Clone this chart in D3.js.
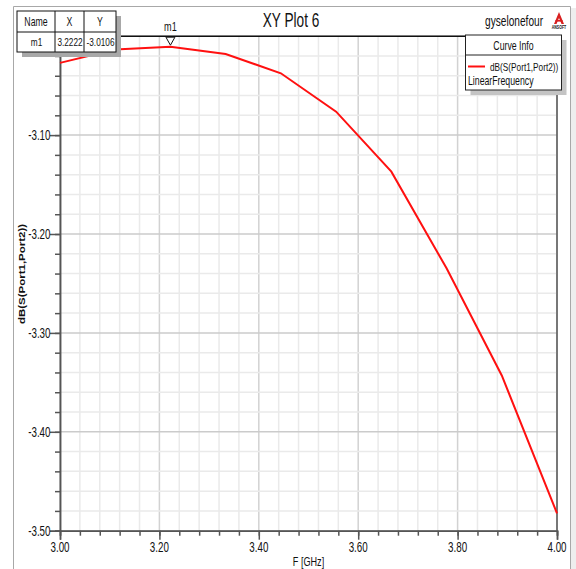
<!DOCTYPE html>
<html>
<head>
<meta charset="utf-8">
<script src="https://cdn.jsdelivr.net/npm/d3@7"></script>
<style>
  html, body { margin: 0; padding: 0; background: #fff; }
  svg { display: block; }
  text { font-family: "Liberation Sans", Arial, sans-serif; fill: #111; }
</style>
</head>
<body>
<svg id="chart" width="576" height="569"></svg>
<script>
// Sweep: dB(S(Port1,Port2)) vs linear frequency (GHz)
const freqGHz = [3.0, 3.1111, 3.2222, 3.3333, 3.4444, 3.5556, 3.6667, 3.7778, 3.8889, 4.0];
const s21dB   = [-3.027, -3.0135, -3.0106, -3.018, -3.0375, -3.0763, -3.137, -3.2347, -3.343, -3.4824];

const xTickLabels = ["3.00", "3.20", "3.40", "3.60", "3.80", "4.00"];
const yTickLabels = ["-3.10", "-3.20", "-3.30", "-3.40", "-3.50"];

const markerName = "m1";
const markerX = 3.2222;
const markerY = -3.0106;

const plotTitle = "XY Plot 6";
const designName = "gyselonefour";
const curveName = "dB(S(Port1,Port2))";
const sweepName = "LinearFrequency";
const xTitle = "F [GHz]";
const yTitle = "dB(S(Port1,Port2))";

const svg = d3.select("#chart");
const SX = 0.7; // narrow text rendering
const L = 60, R = 557, T = 36.2, B = 530.7;

const x = d3.scaleLinear().domain([3.0, 4.0]).range([L, R]);
const y = d3.scaleLinear().domain([-3.5, -3.0]).range([B, T]);

function label(g, px, py, str, size, anchor, weight) {
  return g.append("text")
    .attr("transform", `translate(${px},${py}) scale(${SX},1)`)
    .attr("text-anchor", anchor || "start")
    .style("font-size", size + "px")
    .style("font-weight", weight || "normal")
    .text(str);
}

// outer frame
svg.append("rect").attr("x", 570).attr("y", 8).attr("width", 6).attr("height", 561).attr("fill", "#eeeeee");
svg.append("path").attr("d", "M13.5,569 V6.5 H570.5 V569").attr("fill", "none").attr("stroke", "#a8a8a8").attr("stroke-width", 1);

// grid
const xMinor = d3.range(0, 26).map(i => 3.0 + i * 0.04);
const yMinor = d3.range(0, 26).map(i => -3.5 + i * 0.02);
const grid = svg.append("g");
xMinor.forEach((v, i) => {
  grid.append("line").attr("x1", x(v)).attr("x2", x(v)).attr("y1", T).attr("y2", B)
    .attr("stroke", i % 5 === 0 ? "#d2d2d2" : "#eaeaea").attr("stroke-width", 1.5);
});
yMinor.forEach((v, i) => {
  grid.append("line").attr("x1", L).attr("x2", R).attr("y1", y(v)).attr("y2", y(v))
    .attr("stroke", i % 5 === 0 ? "#cbcbcb" : "#eaeaea").attr("stroke-width", 1.5);
});

// axes
const axisColor = "#555";
const xMajorVals = xTickLabels.map(Number);
const yMajorVals = [-3.0].concat(yTickLabels.map(Number));

const gx = svg.append("g").attr("transform", `translate(0,${B})`);
gx.call(d3.axisBottom(x).tickValues(xMinor).tickSize(5).tickFormat(""));
const gxMaj = svg.append("g").attr("transform", `translate(0,${B})`);
gxMaj.call(d3.axisBottom(x).tickValues(xMajorVals).tickSize(9).tickFormat(""));
[gx, gxMaj].forEach(g => {
  g.selectAll("path,line").attr("stroke", axisColor).attr("stroke-width", 1.5);
});
xMajorVals.forEach((v, i) => label(svg, x(v), 551.5, xTickLabels[i], 14, "middle"));

const gy = svg.append("g").attr("transform", `translate(${L},0)`);
gy.call(d3.axisLeft(y).tickValues(yMinor).tickSize(5).tickFormat(""));
const gyMaj = svg.append("g").attr("transform", `translate(${L},0)`);
gyMaj.call(d3.axisLeft(y).tickValues(yMajorVals).tickSize(10).tickFormat(""));
[gy, gyMaj].forEach(g => {
  g.selectAll("path,line").attr("stroke", axisColor).attr("stroke-width", 1.5);
});
// the -3.00 label sits under the marker table, so only the lower labels are drawn
yTickLabels.forEach(t => label(svg, 50.5, y(+t) + 5, t, 14, "end"));

// right edge and top border of plot area
svg.append("line").attr("x1", R).attr("x2", R).attr("y1", T).attr("y2", B).attr("stroke", axisColor).attr("stroke-width", 1.5);
svg.append("line").attr("x1", L).attr("x2", R).attr("y1", T).attr("y2", T).attr("stroke", "#111").attr("stroke-width", 1.5);

// axis titles
label(svg, (L + R) / 2, 566, xTitle, 13, "middle");
svg.append("text")
  .attr("transform", `translate(25,274) rotate(-90) scale(1,${SX + 0.05})`)
  .attr("text-anchor", "middle")
  .style("font-size", "11.5px")
  .style("font-weight", "bold")
  .text(yTitle);

// curve
const line = d3.line().x((d, i) => x(freqGHz[i])).y(d => y(d));
svg.append("path").datum(s21dB).attr("d", line)
  .attr("fill", "none").attr("stroke", "#ff1010").attr("stroke-width", 2);

// marker
const mx = x(markerX), my = y(markerY);
svg.append("path")
  .attr("d", `M${mx - 4.5},${T + 1} L${mx + 4.5},${T + 1} L${mx},${my - 1.5} Z`)
  .attr("fill", "#fff").attr("stroke", "#111").attr("stroke-width", 1);
label(svg, mx, 31, markerName, 13, "middle");

// title and design name
label(svg, 291, 27, plotTitle, 19.5, "middle");
label(svg, 485, 26, designName, 14.5, "start");

// logo
const logo = svg.append("g").attr("transform", "translate(559,12)");
logo.append("path").attr("d", "M0,0 L5,12 L2.5,12 L0,6 L-2.5,12 L-5,12 Z").attr("fill", "#d82020");
logo.append("rect").attr("x", -3.5).attr("y", 8).attr("width", 7).attr("height", 1.6).attr("fill", "#d82020");
label(logo, 0, 16.5, "ANSOFT", 5, "middle", "bold");

// marker table
const tbl = svg.append("g");
const tx0 = 17, tx1 = 55, tx2 = 84, tx3 = 116, ty0 = 11, ty1 = 32, ty2 = 52;
tbl.append("rect").attr("x", tx0 + 5).attr("y", ty0 + 5).attr("width", tx3 - tx0).attr("height", ty2 - ty0).attr("fill", "#a8a8a8");
tbl.append("rect").attr("x", tx0).attr("y", ty0).attr("width", tx3 - tx0).attr("height", ty2 - ty0)
  .attr("fill", "#fff").attr("stroke", "#111").attr("stroke-width", 1);
[tx1, tx2].forEach(v => tbl.append("line").attr("x1", v).attr("x2", v).attr("y1", ty0).attr("y2", ty2).attr("stroke", "#111"));
tbl.append("line").attr("x1", tx0).attr("x2", tx3).attr("y1", ty1).attr("y2", ty1).attr("stroke", "#111");
const headers = ["Name", "X", "Y"];
const row = [markerName, markerX.toFixed(4), markerY.toFixed(4)];
const cx = [(tx0 + tx1) / 2, (tx1 + tx2) / 2, (tx2 + tx3) / 2];
headers.forEach((h, i) => label(tbl, cx[i], 26, h, 12.5, "middle"));
row.forEach((h, i) => label(tbl, cx[i] + 0.5, 46, h, 11.8, "middle"));

// curve info legend
const lg = svg.append("g");
const lx0 = 465.5, lx1 = 561.5, ly0 = 35, ly1 = 90;
lg.append("rect").attr("x", lx0 + 5).attr("y", ly0 + 5).attr("width", lx1 - lx0).attr("height", ly1 - ly0).attr("fill", "#c4c4c4");
lg.append("rect").attr("x", lx0).attr("y", ly0).attr("width", lx1 - lx0).attr("height", ly1 - ly0)
  .attr("fill", "#fff").attr("stroke", "#222").attr("stroke-width", 1);
lg.append("line").attr("x1", lx0).attr("x2", lx1).attr("y1", 55).attr("y2", 55).attr("stroke", "#222");
label(lg, (lx0 + lx1) / 2, 50, "Curve Info", 12.5, "middle");
lg.append("line").attr("x1", 468).attr("x2", 485).attr("y1", 66.5).attr("y2", 66.5).attr("stroke", "#ff1010").attr("stroke-width", 2);
label(lg, 490, 70.5, curveName, 11.8, "start");
label(lg, 468, 85, sweepName, 12.5, "start");
</script>
</body>
</html>
